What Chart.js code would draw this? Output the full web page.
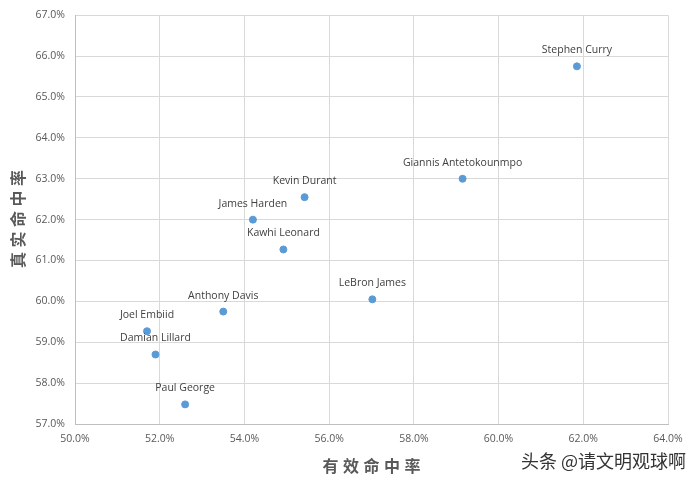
<!DOCTYPE html>
<html>
<head>
<meta charset="utf-8">
<script src="https://cdn.jsdelivr.net/npm/chart.js@4"></script>
<style>
  html, body { margin: 0; padding: 0; background: #fff; }
  #wrap { width: 697px; height: 483px; }
</style>
</head>
<body>
<div id="wrap"><canvas id="c"></canvas></div>
<script>
const players = ["Stephen Curry", "Giannis Antetokounmpo", "Kevin Durant", "James Harden", "Kawhi Leonard",
  "LeBron James", "Anthony Davis", "Joel Embiid", "Damian Lillard", "Paul George"];
const efgPct = [61.85, 59.15, 55.42, 54.2, 54.92, 57.02, 53.5, 51.7, 51.9, 52.6];
const tsPct = [65.75, 63.0, 62.55, 62.0, 61.27, 60.05, 59.75, 59.27, 58.7, 57.48];
const xTitle = "有效命中率";
const yTitle = "真实命中率";
const watermark = "头条 @请文明观球啊";

const textColor = "#595959";

const pointLabels = {
  id: "pointLabels",
  afterDatasetsDraw(chart) {
    const ctx = chart.ctx;
    const meta = chart.getDatasetMeta(0);
    ctx.save();
    ctx.font = "10.5px 'Open Sans'";
    ctx.fillStyle = "#404040";
    ctx.textAlign = "center";
    ctx.textBaseline = "middle";
    meta.data.forEach((pt, i) => ctx.fillText(players[i], pt.x, pt.y - 16));
    ctx.restore();
  }
};

const titles = {
  id: "titles",
  afterDraw(chart) {
    const ctx = chart.ctx;
    const area = chart.chartArea;
    ctx.save();
    ctx.font = "bold 16px 'Noto Sans CJK SC'";
    ctx.fillStyle = textColor;
    ctx.textAlign = "center";
    ctx.textBaseline = "middle";
    const step = 20.5;
    const cx = (area.left + area.right) / 2;
    [...xTitle].forEach((ch, i) => ctx.fillText(ch, cx + (i - 2) * step, 466));
    ctx.translate(18, 219);
    ctx.rotate(-Math.PI / 2);
    [...yTitle].forEach((ch, i) => ctx.fillText(ch, (i - 2) * step, 0));
    ctx.restore();

    ctx.save();
    ctx.font = "18px 'Noto Sans CJK SC'";
    ctx.textAlign = "right";
    ctx.textBaseline = "middle";
    ctx.lineWidth = 2.5;
    ctx.strokeStyle = "rgba(255,255,255,0.9)";
    ctx.strokeText(watermark, 686, 461);
    ctx.fillStyle = "#333";
    ctx.fillText(watermark, 686, 461);
    ctx.restore();
  }
};

new Chart(document.getElementById("c"), {
  type: "scatter",
  data: {
    datasets: [{
      data: efgPct.map((x, i) => ({ x, y: tsPct[i] })),
      backgroundColor: "#5b9bd5",
      borderColor: "#5b9bd5",
      pointRadius: 3.5,
      pointHoverRadius: 3.5
    }]
  },
  options: {
    responsive: true,
    maintainAspectRatio: false,
    animation: false,
    layout: { padding: { top: 14, right: 29, left: 0, bottom: 0 } },
    plugins: { legend: { display: false }, tooltip: { enabled: false } },
    scales: {
      x: {
        min: 50, max: 64,
        ticks: {
          stepSize: 2,
          callback: (v) => v.toFixed(1) + "%",
          color: textColor,
          font: { family: "'Open Sans'", size: 10.5 },
          padding: 9,
          maxRotation: 0
        },
        grid: { color: "#d9d9d9", drawTicks: false },
        border: { color: "#bfbfbf" },
        afterFit: (s) => { s.height = 59; }
      },
      y: {
        min: 57, max: 67,
        ticks: {
          stepSize: 1,
          callback: (v) => v.toFixed(1) + "%",
          color: textColor,
          font: { family: "'Open Sans'", size: 10.5, lineHeight: 1 },
          padding: 10
        },
        grid: { color: "#d9d9d9", drawTicks: false },
        border: { color: "#bfbfbf" },
        afterFit: (s) => { s.width = 75; }
      }
    }
  },
  plugins: [pointLabels, titles]
});
</script>
</body>
</html>
